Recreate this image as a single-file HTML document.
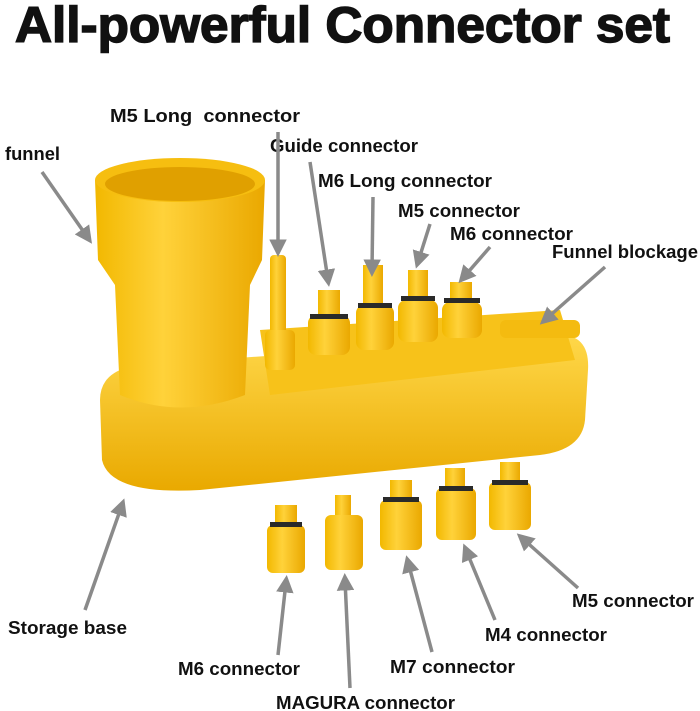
<!DOCTYPE html>
<html><head><meta charset="utf-8"><style>
html,body{margin:0;padding:0;background:#fff;}
svg{display:block;}
text{font-family:"Liberation Sans",sans-serif;font-weight:bold;fill:#111;}
</style></head><body>
<svg width="700" height="711" viewBox="0 0 700 711" xmlns="http://www.w3.org/2000/svg">
<defs>
<linearGradient id="y" x1="0" x2="1"><stop offset="0" stop-color="#f2b800"/><stop offset="0.4" stop-color="#ffd23a"/><stop offset="1" stop-color="#eaa800"/></linearGradient>
<linearGradient id="b" x1="0" y1="0" x2="0" y2="1"><stop offset="0" stop-color="#ffd84a"/><stop offset="1" stop-color="#e9a900"/></linearGradient>
<marker id="a" markerWidth="5" markerHeight="5" refX="3" refY="2.5" orient="auto"><path d="M0,0 L5,2.5 L0,5 z" fill="#8a8a8a"/></marker>
</defs>
<text x="15" y="42" font-size="50" textLength="655" lengthAdjust="spacingAndGlyphs" stroke="#111" stroke-width="1.5">All-powerful Connector set</text>
<path d="M100 400 Q100 370 140 365 L560 335 Q590 335 588 370 L585 420 Q582 450 540 455 L200 490 Q110 495 102 460 Z" fill="url(#b)"/>
<path d="M260 330 L560 310 L575 360 L270 395 Z" fill="#f7c21a"/>
<path d="M95 180 Q180 150 265 180 L262 260 L250 285 L245 395 Q180 420 120 395 L115 285 L98 260 Z" fill="url(#y)"/>
<ellipse cx="180" cy="180" rx="85" ry="22" fill="#f6be10"/>
<ellipse cx="180" cy="184" rx="75" ry="17" fill="#e0a000"/>
<rect x="500" y="320" width="80" height="18" rx="6" fill="#f4bb10"/>
<g fill="url(#y)">
<rect x="270" y="255" width="16" height="80" rx="4"/><rect x="265" y="330" width="30" height="40" rx="5"/>
<rect x="318" y="290" width="22" height="30"/><rect x="308" y="315" width="42" height="40" rx="8"/>
<rect x="363" y="265" width="20" height="45"/><rect x="356" y="305" width="38" height="45" rx="8"/>
<rect x="408" y="270" width="20" height="35"/><rect x="398" y="300" width="40" height="42" rx="8"/>
<rect x="450" y="282" width="22" height="25"/><rect x="442" y="302" width="40" height="36" rx="8"/>
<rect x="275" y="505" width="22" height="25"/><rect x="267" y="525" width="38" height="48" rx="6"/>
<rect x="335" y="495" width="16" height="25"/><rect x="325" y="515" width="38" height="55" rx="6"/>
<rect x="390" y="480" width="22" height="25"/><rect x="380" y="500" width="42" height="50" rx="6"/>
<rect x="445" y="468" width="20" height="25"/><rect x="436" y="488" width="40" height="52" rx="6"/>
<rect x="500" y="462" width="20" height="25"/><rect x="489" y="482" width="42" height="48" rx="6"/>
</g>
<g fill="#2a2a2a">
<rect x="310" y="314" width="38" height="5"/><rect x="358" y="303" width="34" height="5"/><rect x="401" y="296" width="34" height="5"/><rect x="444" y="298" width="36" height="5"/>
<rect x="270" y="522" width="32" height="5"/><rect x="383" y="497" width="36" height="5"/><rect x="439" y="486" width="34" height="5"/><rect x="492" y="480" width="36" height="5"/>
</g>
<g font-size="18.5" lengthAdjust="spacingAndGlyphs">
<text x="110" y="122" textLength="190" lengthAdjust="spacingAndGlyphs">M5 Long&#160;&#160;connector</text>
<text x="5" y="160" textLength="55" lengthAdjust="spacingAndGlyphs">funnel</text>
<text x="270" y="152" textLength="148" lengthAdjust="spacingAndGlyphs">Guide connector</text>
<text x="318" y="187" textLength="174" lengthAdjust="spacingAndGlyphs">M6 Long connector</text>
<text x="398" y="217" textLength="122" lengthAdjust="spacingAndGlyphs">M5 connector</text>
<text x="450" y="240" textLength="123" lengthAdjust="spacingAndGlyphs">M6 connector</text>
<text x="552" y="258" textLength="146" lengthAdjust="spacingAndGlyphs">Funnel blockage</text>
<text x="8" y="634" textLength="119" lengthAdjust="spacingAndGlyphs">Storage base</text>
<text x="572" y="607" textLength="122" lengthAdjust="spacingAndGlyphs">M5 connector</text>
<text x="485" y="641" textLength="122" lengthAdjust="spacingAndGlyphs">M4 connector</text>
<text x="390" y="673" textLength="125" lengthAdjust="spacingAndGlyphs">M7 connector</text>
<text x="178" y="675" textLength="122" lengthAdjust="spacingAndGlyphs">M6 connector</text>
<text x="276" y="709" textLength="179" lengthAdjust="spacingAndGlyphs">MAGURA connector</text>
</g>
<g stroke="#8a8a8a" stroke-width="3.5" fill="none" marker-end="url(#a)">
<line x1="42" y1="172" x2="88" y2="238"/>
<line x1="278" y1="132" x2="278" y2="250"/>
<line x1="310" y1="162" x2="328" y2="280"/>
<line x1="373" y1="197" x2="372" y2="270"/>
<line x1="430" y1="224" x2="418" y2="262"/>
<line x1="490" y1="247" x2="463" y2="278"/>
<line x1="605" y1="267" x2="545" y2="320"/>
<line x1="85" y1="610" x2="122" y2="505"/>
<line x1="578" y1="588" x2="522" y2="538"/>
<line x1="495" y1="620" x2="466" y2="550"/>
<line x1="432" y1="652" x2="408" y2="562"/>
<line x1="278" y1="655" x2="286" y2="582"/>
<line x1="350" y1="688" x2="345" y2="580"/>
</g>
</svg>
</body></html>
